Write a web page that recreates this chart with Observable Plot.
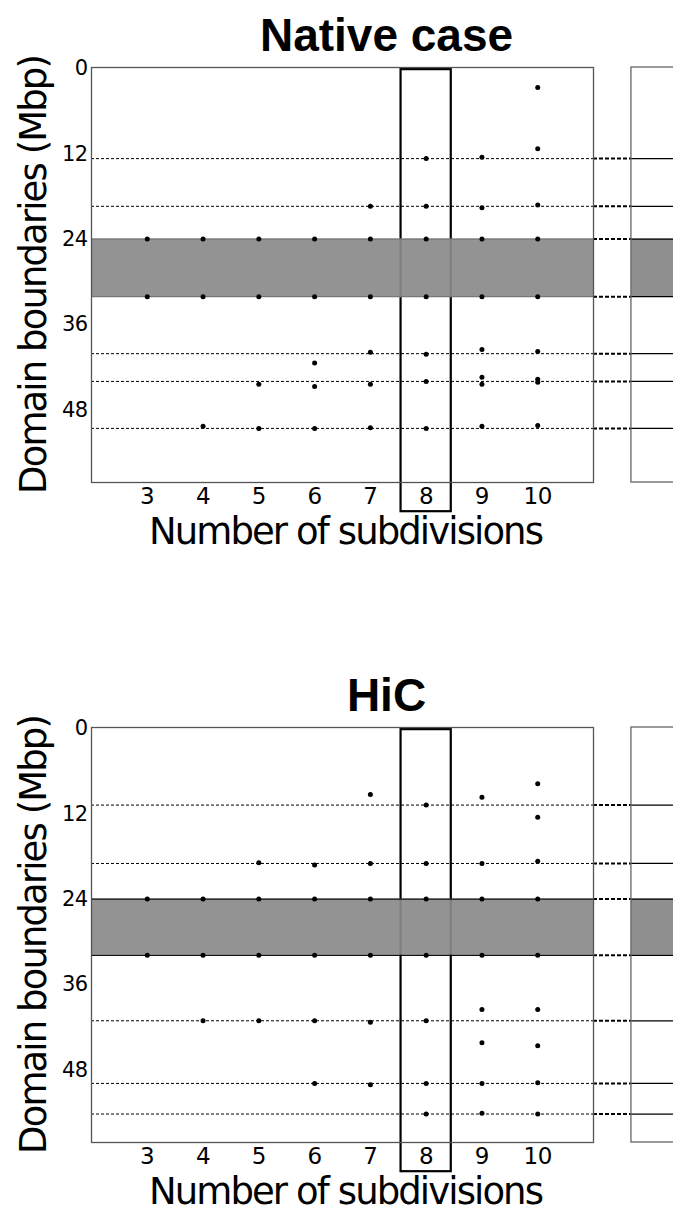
<!DOCTYPE html>
<html>
<head>
<meta charset="utf-8">
<script src="https://cdn.jsdelivr.net/npm/d3@7"></script>
<script src="https://cdn.jsdelivr.net/npm/@observablehq/plot@0.6"></script>
<style>
  html, body { margin: 0; padding: 0; background: #fff; }
  #chart div, #chart svg { display: block; }
</style>
</head>
<body>
<div id="chart"></div>
<script>
// ---- data ----
const subdivisions = [3, 4, 5, 6, 7, 8, 9, 10];
const yTicks = [0, 12, 24, 36, 48];
const highlighted = 8;

// Native case
const nativeTitle = "Native case";
const nativeLines = [12.8, 19.5, 24.1, 32.2, 40.2, 44.1, 50.7];
const nativeBand = [24.1, 32.2];
const nativeBySub = [
  [24.1, 32.2],
  [24.1, 32.2, 50.4],
  [24.1, 32.2, 44.5, 50.7],
  [24.1, 32.2, 41.5, 44.8, 50.7],
  [19.5, 24.1, 32.2, 40.0, 44.5, 50.6],
  [12.8, 19.5, 24.1, 32.2, 40.3, 44.1, 50.7],
  [12.6, 19.7, 24.1, 32.2, 39.6, 43.5, 44.5, 50.4],
  [2.8, 11.4, 19.3, 24.1, 32.2, 39.9, 43.8, 44.2, 50.3]
];

// HiC
const hicTitle = "HiC";
const hicLines = [10.9, 19.1, 24.1, 32.0, 41.2, 50.0, 54.3];
const hicBand = [24.1, 32.0];
const hicBySub = [
  [24.1, 32.0],
  [24.1, 32.0, 41.2],
  [19.0, 24.1, 32.0, 41.2],
  [19.3, 24.1, 32.0, 41.2, 50.0],
  [9.4, 19.1, 24.1, 32.0, 41.4, 50.2],
  [10.9, 19.1, 24.1, 32.0, 41.2, 50.0, 54.3],
  [9.8, 19.1, 24.1, 32.0, 39.6, 44.3, 50.0, 54.2],
  [7.9, 12.6, 18.8, 24.1, 32.0, 39.6, 44.7, 49.9, 54.3]
];

const xLabel = "Number of subdivisions";
const yLabel = "Domain boundaries (Mbp)";

// ---- layout constants ----
const xDomain = [2, 11];
const yDomain = [0, 58.3];
const nextPanelStart = 11.68;   // left edge of the cropped neighbouring panel
const nextPanelEnd = 14;
const boxHalf = 0.45;
const boxBottom = 62.4;

function panel(title, lines, band, bySub, bandEdge, height, marginBottom) {
  const points = [];
  bySub.forEach((ys, i) => ys.forEach(y => points.push({x: subdivisions[i], y})));
  const inner = lines.filter(v => !band.includes(v));
  return Plot.plot({
    width: 673,
    height,
    marginTop: 67,
    marginLeft: 91,
    marginRight: 80,
    marginBottom,
    style: {fontFamily: "DejaVu Sans", fontSize: "22px", background: "white", overflow: "visible", color: "#000"},
    x: {domain: xDomain, axis: null},
    y: {domain: yDomain, reverse: true, axis: null},
    marks: [
      // highlight box
      Plot.rect([highlighted], {x1: d => d - boxHalf, x2: d => d + boxHalf, y1: 0.3, y2: boxBottom, fill: "none", stroke: "#000", strokeWidth: 2.2}),
      // bands
      Plot.rect([band], {x1: xDomain[0], x2: xDomain[1], y1: d => d[0], y2: d => d[1], fill: "#8a8a8a", fillOpacity: 0.92}),
      Plot.rect([band], {x1: nextPanelStart, x2: nextPanelEnd, y1: d => d[0], y2: d => d[1], fill: "#8f8f8f"}),
      Plot.ruleY(band, {x1: xDomain[0], x2: xDomain[1], stroke: bandEdge, strokeWidth: 1.2}),
      // boundary lines
      Plot.ruleY(inner, {x1: xDomain[0], x2: xDomain[1], stroke: "#000", strokeWidth: 1, strokeDasharray: "3,2"}),
      Plot.ruleY(lines, {x1: xDomain[1], x2: nextPanelStart, stroke: "#000", strokeWidth: 2, strokeDasharray: "4,2"}),
      Plot.ruleY(lines, {x1: nextPanelStart, x2: nextPanelEnd, stroke: "#000", strokeWidth: 1.3}),
      // frames
      Plot.frame({stroke: "#555", strokeWidth: 1.3}),
      Plot.rect([0], {x1: nextPanelStart, x2: nextPanelEnd, y1: yDomain[0], y2: yDomain[1], fill: "none", stroke: "#666", strokeWidth: 1.3}),
      // points
      Plot.dot(points, {x: "x", y: "y", r: 2.5, fill: "#000"}),
      // axes
      Plot.axisX(subdivisions, {tickSize: 0, tickPadding: 5, fontSize: 23, label: null, fill: "#000"}),
      Plot.axisY(yTicks, {tickSize: 0, tickPadding: 4, fontSize: 21, label: null, fill: "#000", dy: 1}),
      // texts
      Plot.text([title], {frameAnchor: "top", dx: 44, dy: -17, lineAnchor: "bottom", fontSize: 46, fontWeight: "bold", fontFamily: "Liberation Sans, Arial, sans-serif", fill: "#000"}),
      Plot.text([yLabel], {frameAnchor: "left", textAnchor: "middle", dx: -46, rotate: -90, lineAnchor: "bottom", fontSize: 37, fill: "#000"}),
      Plot.text([xLabel], {frameAnchor: "bottom", textAnchor: "middle", dx: 3, dy: 61, lineAnchor: "bottom", fontSize: 37, fill: "#000"})
    ]
  });
}

function tidy(svg) {
  const s = d3.select(svg);
  s.selectAll("text").filter(function() { return this.textContent === xLabel || this.textContent === yLabel; })
    .style("letter-spacing", "-1.9px");
  s.selectAll("g[aria-label='x-axis tick label'] text").style("letter-spacing", "-0.3px");
  s.selectAll("g[aria-label='y-axis tick label'] text").style("letter-spacing", "-0.6px");
  return svg;
}

const root = document.getElementById("chart");
root.appendChild(tidy(panel(nativeTitle, nativeLines, nativeBand, nativeBySub, "#777", 660, 178)));
root.appendChild(tidy(panel(hicTitle, hicLines, hicBand, hicBySub, "#111", 549, 67)));
</script>
</body>
</html>
